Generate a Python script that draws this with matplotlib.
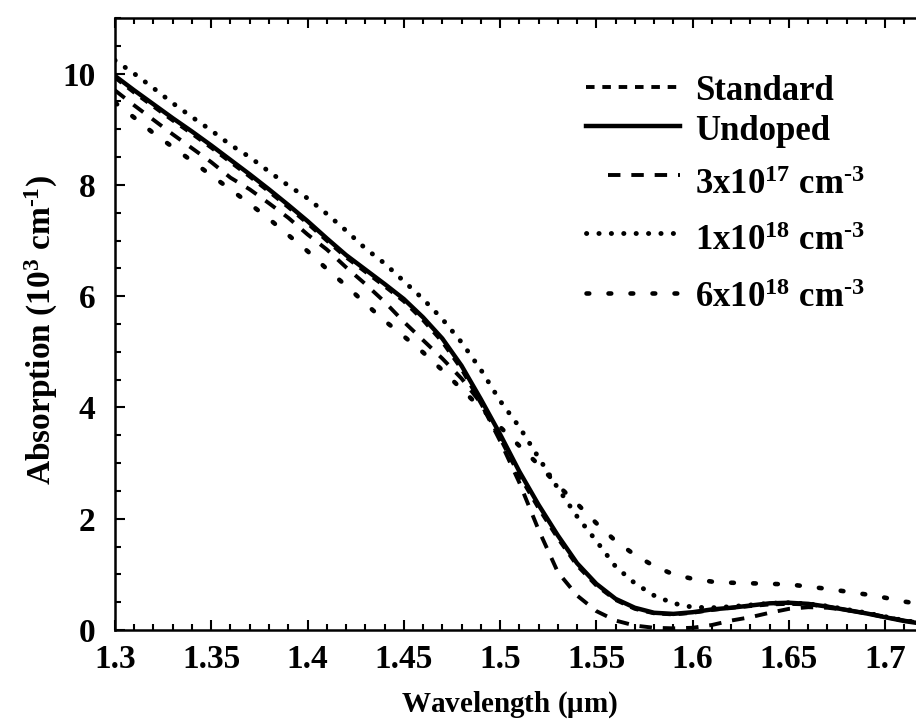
import matplotlib
matplotlib.use("Agg")
import matplotlib.pyplot as plt
from matplotlib.ticker import MultipleLocator

plt.rcParams['font.family'] = ['Liberation Serif', 'DejaVu Serif']
plt.rcParams['font.weight'] = 'bold'
plt.rcParams['mathtext.fontset'] = 'custom'
plt.rcParams['mathtext.rm'] = 'Liberation Serif:bold'
plt.rcParams['mathtext.it'] = 'Liberation Serif:bold'
plt.rcParams['mathtext.bf'] = 'Liberation Serif:bold'

# wavelength grid (um)
wavelength = [1.30, 1.31, 1.32, 1.33, 1.34, 1.35, 1.36, 1.37, 1.38, 1.39,
              1.40, 1.41, 1.42, 1.43, 1.44, 1.45, 1.46, 1.47, 1.48, 1.49,
              1.50, 1.51, 1.52, 1.53, 1.54, 1.55, 1.56, 1.57, 1.58, 1.59,
              1.60, 1.61, 1.62, 1.63, 1.64, 1.65, 1.66, 1.67, 1.68, 1.69,
              1.70, 1.71, 1.716]

# absorption (10^3 cm^-1)
standard = [9.93, 9.66, 9.41, 9.16, 8.92, 8.67, 8.41, 8.15, 7.88, 7.60,
            7.31, 7.00, 6.70, 6.44, 6.18, 5.91, 5.57, 5.18, 4.69, 4.08,
            3.45, 2.78, 2.19, 1.65, 1.16, 0.80, 0.54, 0.38, 0.30, 0.28,
            0.31, 0.36, 0.40, 0.43, 0.46, 0.47, 0.46, 0.42, 0.36, 0.30,
            0.23, 0.17, 0.14]
undoped = [9.96, 9.70, 9.45, 9.20, 8.96, 8.71, 8.45, 8.19, 7.92, 7.64,
           7.35, 7.04, 6.74, 6.48, 6.22, 5.95, 5.62, 5.24, 4.75, 4.15,
           3.52, 2.85, 2.25, 1.70, 1.20, 0.83, 0.56, 0.40, 0.31, 0.29,
           0.32, 0.37, 0.40, 0.44, 0.48, 0.49, 0.47, 0.42, 0.36, 0.30,
           0.23, 0.16, 0.13]
dop_3e17 = [9.70, 9.43, 9.17, 8.91, 8.66, 8.41, 8.13, 7.92, 7.67, 7.41,
            7.11, 6.84, 6.52, 6.22, 5.90, 5.54, 5.21, 4.88, 4.52, 4.08,
            3.40, 2.65, 1.80, 1.04, 0.62, 0.34, 0.17, 0.08, 0.04, 0.03,
            0.04, 0.09, 0.17, 0.23, 0.31, 0.38, 0.41, 0.40, 0.36, 0.30,
            0.24, 0.17, 0.14]
dop_1e18 = [10.24, 10.00, 9.74, 9.47, 9.22, 8.98, 8.72, 8.50, 8.24, 7.99,
            7.76, 7.48, 7.18, 6.86, 6.59, 6.27, 5.95, 5.59, 5.17, 4.68,
            4.12, 3.65, 3.10, 2.55, 2.04, 1.60, 1.14, 0.84, 0.62, 0.48,
            0.41, 0.40, 0.42, 0.45, 0.48, 0.49, 0.47, 0.43, 0.37, 0.31,
            0.24, 0.17, 0.14]
dop_6e18 = [9.48, 9.21, 8.93, 8.68, 8.43, 8.17, 7.92, 7.66, 7.39, 7.10,
            6.81, 6.49, 6.19, 5.87, 5.56, 5.28, 4.99, 4.67, 4.33, 3.99,
            3.65, 3.31, 2.97, 2.60, 2.27, 1.92, 1.60, 1.35, 1.15, 1.00,
            0.92, 0.87, 0.85, 0.84, 0.83, 0.82, 0.78, 0.74, 0.69, 0.64,
            0.58, 0.51, 0.48]

labels = ["Standard", "Undoped",
          "3x10$^{17}$ cm$^{\\text{-3}}$", "1x10$^{18}$ cm$^{\\text{-3}}$",
          "6x10$^{18}$ cm$^{\\text{-3}}$"]

# line styles, one per curve
styles = [
    dict(lw=2.8, linestyle=(0, (2.2, 2.0))),
    dict(lw=3.2, linestyle='-'),
    dict(lw=2.8, linestyle=(0, (3.2, 2.8))),
    dict(lw=3.5, linestyle=(0, (0.05, 2.5)), dash_capstyle='round'),
    dict(lw=3.3, linestyle=(0, (0.6, 4.2)), dash_capstyle='round'),
]
curves = [standard, undoped, dop_3e17, dop_1e18, dop_6e18]

fig = plt.figure(figsize=(9.16, 7.21), dpi=100)
ax = fig.add_axes([0.1255, 0.1262, 0.8745, 0.8488])

for values, st in zip(curves, styles):
    ax.plot(wavelength, values, color='black', **st)

# hand-placed key (rows are unevenly spaced because of the superscripts)
key_line_y = [0.887, 0.824, 0.743, 0.649, 0.551]
key_text_y = [0.866, 0.801, 0.712, 0.621, 0.528]
key_x0 = [0.588, 0.588, 0.615, 0.588, 0.588]
for lab, st, ly, ty, x0 in zip(labels, styles, key_line_y, key_text_y, key_x0):
    ax.plot([x0, 0.706], [ly, ly], transform=ax.transAxes, color='black',
            clip_on=False, **st)
    ax.text(0.724, ty, lab, transform=ax.transAxes, fontsize=25,
            fontweight='bold', ha='left', va='baseline')

ax.set_xlim(1.3, 1.716)
ax.set_ylim(0, 11)
ax.xaxis.set_minor_locator(MultipleLocator(0.01))
ax.yaxis.set_major_locator(MultipleLocator(2))
ax.yaxis.set_minor_locator(MultipleLocator(0.5))
ax.set_xticks([1.3, 1.35, 1.4, 1.45, 1.5, 1.55, 1.6, 1.65, 1.7])
ax.set_xticklabels(["1.3", "1.35", "1.4", "1.45", "1.5", "1.55", "1.6", "1.65", "1.7"])

ax.tick_params(which='both', direction='in', top=True, right=False,
               width=1.5, labelsize=24)
ax.tick_params(axis='x', pad=10)
ax.tick_params(axis='y', pad=14)
ax.tick_params(which='major', length=7)
ax.tick_params(which='minor', length=4)
for lbl in ax.get_xticklabels() + ax.get_yticklabels():
    lbl.set_fontweight('bold')

for side in ['left', 'bottom', 'top']:
    ax.spines[side].set_linewidth(1.8)
ax.spines['right'].set_visible(False)

ax.set_xlabel("Wavelength ($\\mu$m)", fontsize=21, fontweight='bold')
ax.xaxis.set_label_coords(0.493, -0.097)
ax.set_ylabel("Absorption (10$^3$ cm$^{\\text{-1}}$)", fontsize=24, fontweight='bold')
ax.yaxis.set_label_coords(-0.068, 0.49)

fig.savefig("out.png", dpi=100)
